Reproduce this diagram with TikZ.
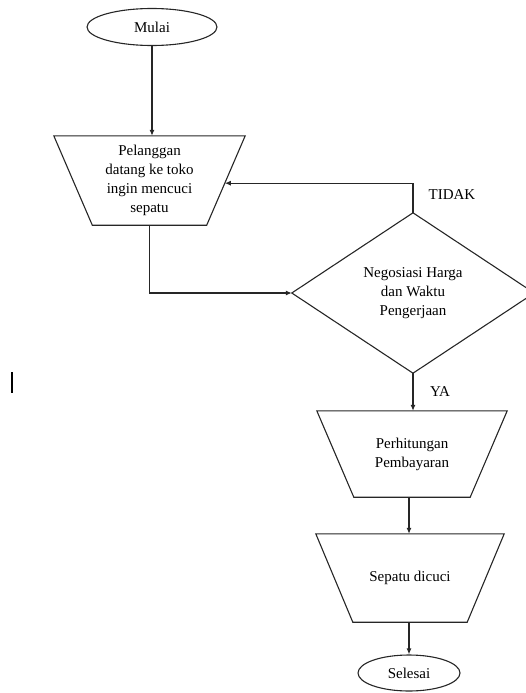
\documentclass[tikz,border=0pt]{standalone}
\usepackage{fontspec}
\setmainfont{Liberation Serif}
\usetikzlibrary{shapes.geometric,arrows.meta,calc}
\tikzset{
  line/.style={line width=1.1pt, draw=black!85},
  arr/.style={line, -{Latex[length=6pt,width=5pt]}},
  term/.style={ellipse, line, inner sep=0pt, font=\fontsize{15}{18}\selectfont},
  box/.style={inner sep=0pt, align=center, font=\fontsize{15}{19}\selectfont},
  lbl/.style={inner sep=0pt, font=\fontsize{15}{18}\selectfont},
}
\begin{document}
\begin{tikzpicture}[x=1pt,y=-1pt]
\useasboundingbox (0,0) rectangle (525,693);
% start
\node[term, minimum width=130pt, minimum height=37pt] (start) at (152,27) {Mulai};
% trapezoid 1
\node[box, minimum width=191pt, minimum height=89pt] (t1) at (149.5,180.5) {Pelanggan\\datang ke toko\\ingin mencuci\\sepatu};
\draw[line] (t1.north west) -- (t1.north east) -- ([xshift=-38.5pt]t1.south east) -- ([xshift=38.5pt]t1.south west) -- cycle;
\coordinate (t1e) at ($(t1.north east)!0.53!([xshift=-38.5pt]t1.south east)$);
% diamond
\node[box, minimum width=242pt, minimum height=160pt] (d) at (413,293) {Negosiasi Harga\\dan Waktu\\Pengerjaan};
\draw[line] (d.north) -- (d.east) -- (d.south) -- (d.west) -- cycle;
% trapezoid 2
\node[box, minimum width=190pt, minimum height=86pt] (t2) at (412,454) {Perhitungan\\Pembayaran};
\draw[line] (t2.north west) -- (t2.north east) -- ([xshift=-37pt]t2.south east) -- ([xshift=37pt]t2.south west) -- cycle;
% trapezoid 3
\node[box, minimum width=188pt, minimum height=88pt] (t3) at (410,578) {Sepatu dicuci};
\draw[line] (t3.north west) -- (t3.north east) -- ([xshift=-37pt]t3.south east) -- ([xshift=37pt]t3.south west) -- cycle;
% end
\node[term, minimum width=102pt, minimum height=36pt] (end) at (409,673) {Selesai};
% connectors
\draw[arr] (start.south) -- (start.south |- t1.north);
\draw[arr] (t1.south) |- (d.west);
\draw[arr] (d.north) |- (t1e);
\draw[arr] (d.south) -- (d.south |- t2.north);
\draw[arr] ([xshift=-3pt]t2.south) -- ([xshift=-3pt]t2.south |- t3.north);
\draw[arr] ([xshift=-1pt]t3.south) -- ([xshift=-1pt]t3.south |- end.north);
% labels
\node[lbl] (tidak) at (452,195) {TIDAK};
\node[lbl] (ya) at (440,392) {YA};
% cursor mark
\draw[line width=1.3pt] (12,372) -- (12,393);
\end{tikzpicture}
\end{document}
